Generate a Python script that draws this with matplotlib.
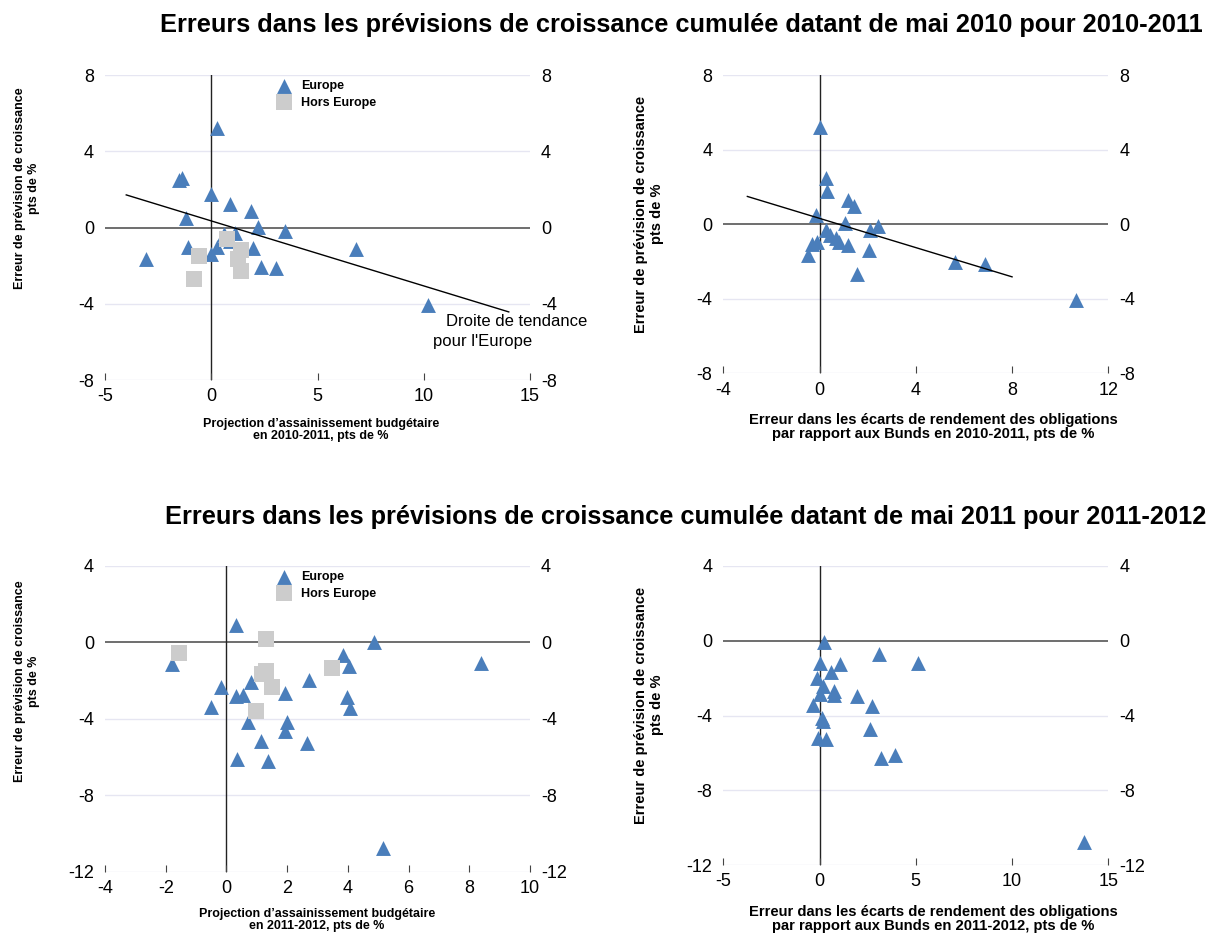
import numpy as np
import matplotlib
matplotlib.use('Agg')
import matplotlib.pyplot as plt

plt.rcParams['font.family'] = ['Liberation Sans', 'DejaVu Sans']
plt.rcParams['axes.unicode_minus'] = False

# --- 2010-2011, assainissement budgetaire (Europe)
x1_eu = [0.28, -1.5, -1.4, -0.03, 0.88, 1.88, -1.18, 2.2, 3.47, 1.11, 0.6,
         0.9, -1.08, 0.25, 0.0, 1.98, -3.06, 2.35, 3.07, 6.82, 10.21]
y1_eu = [5.21, 2.5, 2.62, 1.77, 1.24, 0.89, 0.49, 0.05, -0.16, -0.3, -0.33,
         -0.73, -1.03, -1.0, -1.4, -1.08, -1.66, -2.08, -2.1, -1.14, -4.09]
# hors Europe
x1_he = [0.72, -0.58, 1.41, 1.27, 1.41, -0.82]
y1_he = [-0.59, -1.47, -1.17, -1.66, -2.26, -2.71]
trend1_x = [-4.0, 14.0]
trend1_coef = [-0.341, 0.346]

# --- 2010-2011, ecarts de rendement
x2 = [0.0, 0.26, 0.33, 1.18, 1.45, -0.14, 1.04, 2.08, 2.42, 0.28, 0.42,
      0.69, 0.79, 1.18, -0.32, -0.11, -0.46, 2.06, 1.55, 5.64, 6.88, 10.66]
y2 = [5.23, 2.46, 1.80, 1.27, 0.95, 0.5, 0.05, -0.34, -0.09, -0.34, -0.57,
      -0.75, -0.98, -1.13, -1.07, -0.98, -1.64, -1.41, -2.66, -2.05, -2.13, -4.05]
trend2_x = [-3.0, 8.0]
trend2_coef = [-0.392, 0.31]

# --- 2011-2012, assainissement budgetaire (Europe)
x3_eu = [0.33, 4.86, 3.83, 4.03, 8.40, -1.79, 2.73, 0.82, -0.19, 1.92, 0.33,
         0.56, 3.97, 4.08, -0.51, 0.72, 1.98, 1.92, 1.15, 2.66, 0.36, 1.38, 5.17]
y3_eu = [0.90, 0.03, -0.66, -1.22, -1.08, -1.13, -1.97, -2.05, -2.35, -2.66, -2.83,
         -2.75, -2.87, -3.44, -3.36, -4.14, -4.14, -4.64, -5.18, -5.25, -6.09, -6.23, -10.75]
x3_he = [-1.55, 1.31, 1.29, 1.16, 1.49, 3.48, 0.96]
y3_he = [-0.57, 0.17, -1.48, -1.65, -2.31, -1.36, -3.57]

# --- 2011-2012, ecarts de rendement
x4 = [0.24, 3.10, 5.14, 0.0, 1.04, 0.59, -0.14, 0.16, 0.76, 0.73, 0.03,
      1.97, 2.75, -0.35, 0.12, 0.17, 2.63, -0.10, 0.35, 3.19, 3.90, 13.75]
y4 = [-0.05, -0.71, -1.17, -1.17, -1.26, -1.68, -2.0, -2.44, -2.71, -2.88, -2.83,
      -2.94, -3.47, -3.42, -4.12, -4.30, -4.71, -5.19, -5.24, -6.30, -6.12, -10.76]

titre1 = "Erreurs dans les prévisions de croissance cumulée datant de mai 2010 pour 2010-2011"
titre2 = "Erreurs dans les prévisions de croissance cumulée datant de mai 2011 pour 2011-2012"
ylab = "Erreur de prévision de croissance\npts de %"

bleu = '#4a7ebb'
gris = '#cccccc'
W, H = 1213, 935


def box(x0, y0, x1, y1):
    return [x0 / W, 1 - y1 / H, (x1 - x0) / W, (y1 - y0) / H]


def style(ax, xlim, xticks, ylim, yticks):
    ax.set_xlim(xlim)
    ax.set_ylim(ylim)
    ax.set_xticks(xticks)
    ax.set_yticks(yticks)
    for s in ax.spines.values():
        s.set_visible(False)
    for t in yticks:
        if t != 0:
            ax.axhline(t, color='#e6e6f2', lw=1, zorder=0)
    ax.axhline(0, color='#555555', lw=1.2, zorder=1)
    ax.axvline(0, color='#222222', lw=1, zorder=1)
    ax.tick_params(axis='x', direction='in', length=5, color='#444444',
                   labelsize=13, pad=6)
    ax.tick_params(axis='y', length=0, labelsize=13, pad=8,
                   labelleft=True, labelright=True)


fig = plt.figure(figsize=(12.13, 9.35), dpi=100)

# panel 1
ax1 = fig.add_axes(box(105, 75, 530, 380))
style(ax1, (-5, 15), [-5, 0, 5, 10, 15], (-8, 8), [-8, -4, 0, 4, 8])
ax1.scatter(x1_eu, y1_eu, marker='^', s=115, color=bleu, lw=0, zorder=3, label='Europe')
ax1.scatter(x1_he, y1_he, marker='s', s=125, color=gris, lw=0, zorder=4, label='Hors Europe')
tx = np.array(trend1_x)
ax1.plot(tx, np.polyval(trend1_coef, tx), color='black', lw=1, zorder=5)
ax1.text(11.05, -4.95, "Droite de tendance", fontsize=12, va='center', clip_on=False)
ax1.text(10.45, -6.0, "pour l'Europe", fontsize=12, va='center', clip_on=False)
ax1.legend(loc='upper left', bbox_to_anchor=(0.365, 1.02), frameon=False,
           prop={'size': 9, 'weight': 'bold'}, handletextpad=0.4, labelspacing=0.35)

# panel 2
ax2 = fig.add_axes(box(723.3, 75, 1108.3, 373.3))
style(ax2, (-4, 12), [-4, 0, 4, 8, 12], (-8, 8), [-8, -4, 0, 4, 8])
ax2.scatter(x2, y2, marker='^', s=115, color=bleu, lw=0, zorder=3)
tx = np.array(trend2_x)
ax2.plot(tx, np.polyval(trend2_coef, tx), color='black', lw=1, zorder=5)

# panel 3
ax3 = fig.add_axes(box(105, 566, 530, 871.7))
style(ax3, (-4, 10), [-4, -2, 0, 2, 4, 6, 8, 10], (-12, 4), [-12, -8, -4, 0, 4])
ax3.scatter(x3_eu, y3_eu, marker='^', s=115, color=bleu, lw=0, zorder=3, label='Europe')
ax3.scatter(x3_he, y3_he, marker='s', s=125, color=gris, lw=0, zorder=4, label='Hors Europe')
ax3.legend(loc='upper left', bbox_to_anchor=(0.365, 1.02), frameon=False,
           prop={'size': 9, 'weight': 'bold'}, handletextpad=0.4, labelspacing=0.35)

# panel 4
ax4 = fig.add_axes(box(723.3, 566, 1108.3, 865))
style(ax4, (-5, 15), [-5, 0, 5, 10, 15], (-12, 4), [-12, -8, -4, 0, 4])
ax4.scatter(x4, y4, marker='^', s=115, color=bleu, lw=0, zorder=3)

# titres
fig.text(160 / W, 1 - 25 / H, titre1, fontsize=18.3, weight='bold', va='center', ha='left')
fig.text(165 / W, 1 - 517 / H, titre2, fontsize=18.3, weight='bold', va='center', ha='left')

# titres des axes
fig.text(27 / W, 1 - 188 / H, ylab, fontsize=9, weight='bold', rotation=90,
         ha='center', va='center', multialignment='center')
fig.text(649 / W, 1 - 214 / H, ylab, fontsize=10.5, weight='bold', rotation=90,
         ha='center', va='center', multialignment='center')
fig.text(27 / W, 1 - 681 / H, ylab, fontsize=9, weight='bold', rotation=90,
         ha='center', va='center', multialignment='center')
fig.text(649 / W, 1 - 705 / H, ylab, fontsize=10.5, weight='bold', rotation=90,
         ha='center', va='center', multialignment='center')

fig.text(321 / W, 1 - 430 / H, "Projection d\u2019assainissement budgétaire\nen 2010-2011, pts de %",
         fontsize=9, weight='bold', ha='center', va='center', linespacing=1.0)
fig.text(933 / W, 1 - 427 / H, "Erreur dans les écarts de rendement des obligations\npar rapport aux Bunds en 2010-2011, pts de %",
         fontsize=10.6, weight='bold', ha='center', va='center', linespacing=1.0)
fig.text(317 / W, 1 - 920 / H, "Projection d\u2019assainissement budgétaire\nen 2011-2012, pts de %",
         fontsize=9, weight='bold', ha='center', va='center', linespacing=1.0)
fig.text(933 / W, 1 - 919 / H, "Erreur dans les écarts de rendement des obligations\npar rapport aux Bunds en 2011-2012, pts de %",
         fontsize=10.6, weight='bold', ha='center', va='center', linespacing=1.0)

fig.savefig('out.png', dpi=100)
